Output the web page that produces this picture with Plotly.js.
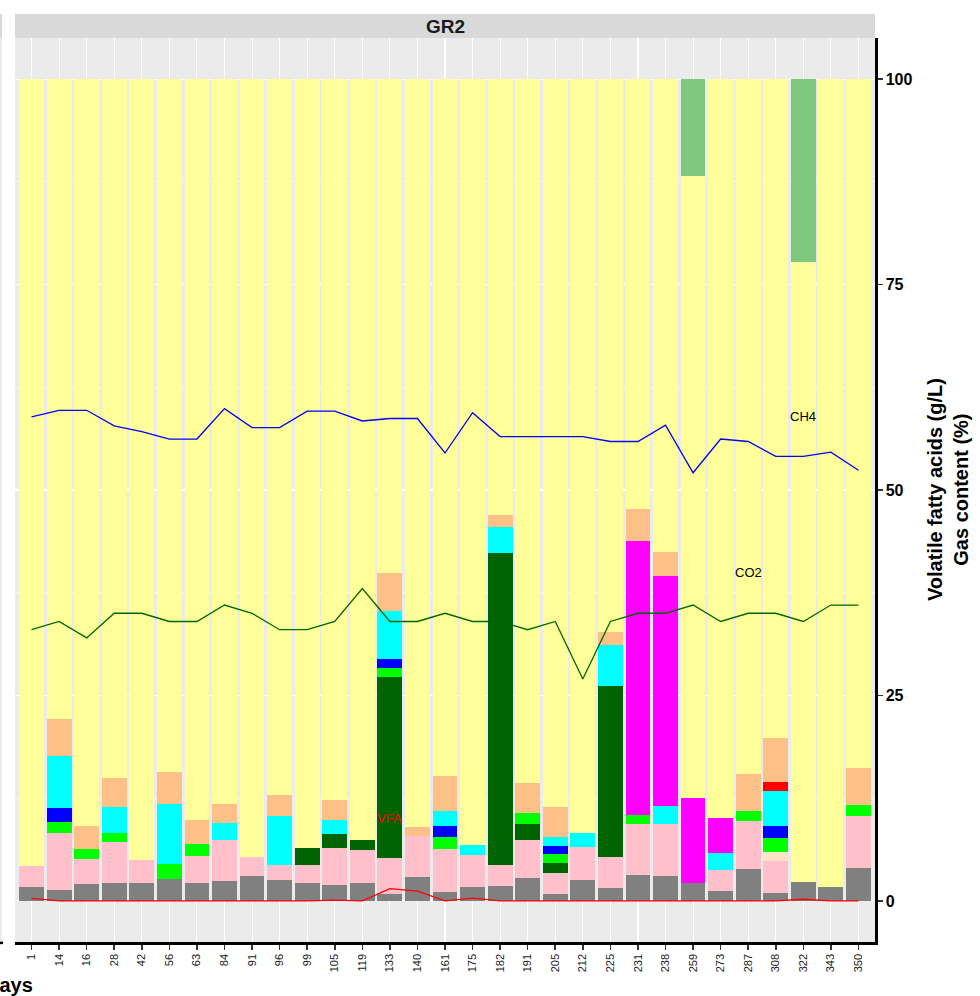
<!DOCTYPE html>
<html>
<head>
<meta charset="utf-8">
<script src="https://cdn.plot.ly/plotly-3.0.1.min.js"></script>
<style>
  html, body { margin: 0; padding: 0; background: #ffffff; }
  #chart { width: 980px; height: 996px; }
</style>
</head>
<body>
<div id="chart"></div>
<script>
// Sampling days (one stacked bar per day)
const days = ['1','14','16','28','42','56','63','84','91','96','99','105','119','133','140',
              '161','175','182','191','205','212','225','231','238','259','273','287','308',
              '322','343','350'];

// Stacked components, bottom to top
const grey      = [1.70,1.34,2.07,2.19,2.19,2.64,2.19,2.43,3.04,2.56,2.19,1.95,2.19,0.85,2.92,
                   1.10,1.70,1.83,2.80,0.85,2.56,1.58,3.16,3.04,2.19,1.22,3.89,0.97,2.31,1.70,4.02];
const pink      = [2.56,6.94,3.00,4.99,2.80,0,3.29,4.99,2.31,1.82,2.19,4.50,4.01,4.38,4.99,
                   5.23,3.90,2.55,4.62,2.56,4.01,3.77,6.21,6.33,0,2.55,5.85,3.90,0,0,6.32];
const bisque    = [0,0,0,0,0,0,0,0,0,0,0,0,0,0,0, 0,0,0,0,0,0,0,0,0,0,0,0,1.09,0,0,0];
const darkgreen = [0,0,0,0,0,0,0,0,0,0,2.07,1.70,1.22,22.03,0, 0,0,37.90,1.95,1.21,0,20.85,0,0,0,0,0,0,0,0,0];
const green     = [0,1.33,1.26,1.10,0,1.86,1.46,0,0,0,0,0,0,1.10,0, 1.46,0,0,1.34,1.10,0,0,1.10,0,0,0,1.21,1.71,0,0,1.34];
const blue      = [0,1.71,0,0,0,0,0,0,0,0,0,0,0,1.09,0, 1.34,0,0,0,0.97,0,0,0,0,0,0,0,1.46,0,0,0];
const cyan      = [0,6.36,0,3.16,0,7.30,0,2.07,0,5.96,0,1.70,0,5.85,0, 1.82,1.20,3.20,0,1.10,1.71,5.00,0,2.19,0,2.07,0,4.26,0,0,0];
const magenta   = [0,0,0,0,0,0,0,0,0,0,0,0,0,0,0, 0,0,0,0,0,0,0,33.30,28.00,10.35,4.26,0,0,0,0,0];
const red       = [0,0,0,0,0,0,0,0,0,0,0,0,0,0,0, 0,0,0,0,0,0,0,0,0,0,0,0,1.09,0,0,0];
const peach     = [0,4.47,2.80,3.53,0,3.90,2.92,2.31,0,2.56,0,2.43,0,4.60,1.10,
                   4.26,0,1.50,3.65,3.65,0,1.50,3.90,2.90,0,0,4.51,5.36,0,0,4.51];
const yellow    = [95.74,77.85,90.87,85.03,95.01,84.30,90.14,88.20,94.65,87.10,93.55,87.72,92.58,60.10,90.99,
                   84.79,93.20,53.02,85.64,88.56,91.72,67.30,52.33,57.54,75.61,89.90,84.54,80.16,75.46,98.30,83.81];
const lightgreen= [0,0,0,0,0,0,0,0,0,0,0,0,0,0,0, 0,0,0,0,0,0,0,0,0,11.85,0,0,0,22.23,0,0];

// Gas content (%) and volatile fatty acids (g/L)
const ch4 = [58.9,59.7,59.7,57.8,57.1,56.2,56.2,59.9,57.6,57.6,59.6,59.6,58.4,58.7,58.7,
             54.5,59.4,56.5,56.5,56.5,56.5,55.9,55.9,57.9,52.1,56.2,55.9,54.1,54.1,54.6,52.4];
const co2 = [33,34,32,35,35,34,34,36,35,33,33,34,38,34,34, 35,34,34,33,34,27,34,35,35,36,34,35,35,34,36,36];
const vfa = [0.3,0,0,0,0,0,0,0,0,0,0,0.1,0,1.5,1.2, 0,0.35,0,0,0,0,0,0,0,0,0,0,0,0.2,0,0];

// Line labels: text, day it sits on, height
const lineLabels = [
  { text: 'CH4', day: '322', y: 59, color: '#000000' },
  { text: 'CO2', day: '287', y: 40, color: '#000000' },
  { text: 'VFA', day: '133', y: 10, color: '#FF0000' }
];

const stackParts = [
  [grey, '#808080'], [pink, '#FFC0CB'], [bisque, '#FFE4C4'], [darkgreen, '#006400'],
  [green, '#00FF00'], [blue, '#0000FF'], [cyan, '#00FFFF'], [magenta, '#FF00FF'],
  [red, '#FF0000'], [peach, '#FDC086'], [yellow, '#FFFF99'], [lightgreen, '#7FC97F']
];

const traces = stackParts.map(([vals, col]) => ({
  type: 'bar', x: days, y: vals,
  marker: { color: col, line: { width: 0 } },
  hoverinfo: 'skip'
}));

traces.push({ type: 'scatter', mode: 'lines', x: days, y: ch4, line: { color: '#0000FF', width: 1.3 }, hoverinfo: 'skip' });
traces.push({ type: 'scatter', mode: 'lines', x: days, y: co2, line: { color: '#006400', width: 1.3 }, hoverinfo: 'skip' });
traces.push({ type: 'scatter', mode: 'lines', x: days, y: vfa, line: { color: '#FF0000', width: 1.3 }, hoverinfo: 'skip' });

const FONT = 'Liberation Sans, Arial, Helvetica, sans-serif';
const stripTop = 1 + 24 / 904;
const leftEdge = -15 / 859;

const annotations = [
  { text: '<b>GR2</b>', xref: 'paper', yref: 'paper', x: 0.5, y: (1 + stripTop) / 2,
    xanchor: 'center', yanchor: 'middle', showarrow: false,
    font: { family: FONT, size: 19, color: '#1A1A1A' } },
  { text: '<b>Volatile fatty acids (g/L)<br>Gas content (%)</b>', xref: 'paper', yref: 'paper',
    x: (947 - 15) / 859, y: 0.5, textangle: -90, showarrow: false,
    xanchor: 'center', yanchor: 'middle', align: 'center',
    font: { family: FONT, size: 20, color: '#000000' } },
  { text: '<b>Days</b>', xref: 'paper', yref: 'paper', x: (35 - 15) / 859, y: -0.048,
    xanchor: 'right', yanchor: 'middle', showarrow: false,
    font: { family: FONT, size: 20, color: '#000000' } }
];
lineLabels.forEach(l => annotations.push({
  text: l.text, xref: 'x', yref: 'y', x: days.indexOf(l.day), y: l.y, showarrow: false,
  xanchor: 'center', yanchor: 'middle', font: { family: FONT, size: 13, color: l.color }
}));

const layout = {
  width: 980, height: 996,
  margin: { l: 15, r: 105, t: 38, b: 54 },
  paper_bgcolor: '#FFFFFF',
  plot_bgcolor: '#EBEBEB',
  barmode: 'stack',
  bargap: 0.1,
  showlegend: false,
  font: { family: FONT, color: '#000000' },
  xaxis: {
    type: 'category', range: [-0.6, 30.6], fixedrange: true,
    showgrid: true, gridcolor: '#FFFFFF', gridwidth: 1.1,
    zeroline: false,
    showline: true, linecolor: '#000000', linewidth: 2.5,
    ticks: 'outside', ticklen: 5, tickwidth: 1.6, tickcolor: '#333333',
    tickangle: -90,
    tickfont: { family: FONT, size: 11, color: '#1A1A1A' }
  },
  yaxis: {
    side: 'right', range: [-5, 105], fixedrange: true,
    tick0: 0, dtick: 25,
    showgrid: true, gridcolor: '#FFFFFF', gridwidth: 1.1,
    minor: { tick0: 0, dtick: 12.5, showgrid: true, gridcolor: '#FFFFFF', gridwidth: 0.6 },
    zeroline: false,
    showline: true, linecolor: '#000000', linewidth: 2.5,
    ticks: 'outside', ticklen: 5, tickwidth: 1.6, tickcolor: '#333333',
    tickfont: { family: FONT, size: 16, color: '#000000', weight: 'bold' }
  },
  shapes: [
    // facet strip
    { type: 'rect', xref: 'paper', yref: 'paper', x0: 0, x1: 1, y0: 1, y1: stripTop,
      fillcolor: '#D9D9D9', line: { width: 0 }, layer: 'below' },
    // edge of the neighbouring panel on the left
    { type: 'rect', xref: 'paper', yref: 'paper', x0: leftEdge, x1: leftEdge + 2 / 859, y0: 0, y1: 1,
      fillcolor: '#EBEBEB', line: { width: 0 }, layer: 'below' },
    { type: 'rect', xref: 'paper', yref: 'paper', x0: leftEdge, x1: leftEdge + 2 / 859, y0: 1, y1: stripTop,
      fillcolor: '#D9D9D9', line: { width: 0 }, layer: 'below' },
    { type: 'line', xref: 'paper', yref: 'paper', x0: leftEdge, x1: leftEdge + 3 / 859, y0: -0.001, y1: -0.001,
      line: { color: '#000000', width: 2.5 } }
  ],
  annotations: annotations
};

Plotly.newPlot('chart', traces, layout, { staticPlot: true, displayModeBar: false });
</script>
</body>
</html>
